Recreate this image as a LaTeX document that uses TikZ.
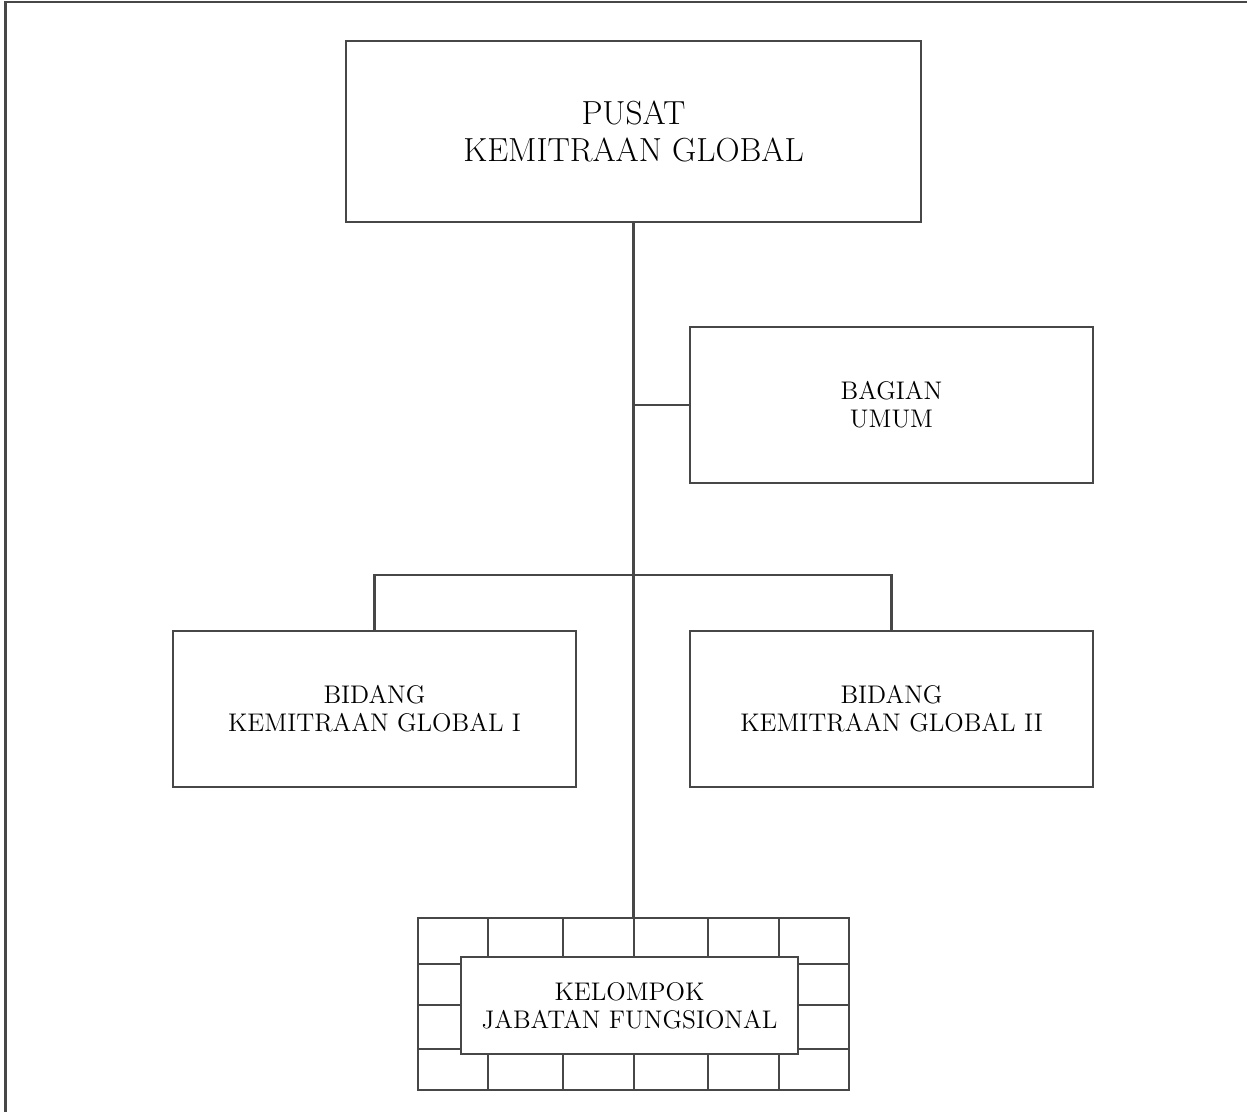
\documentclass[tikz,border=0pt]{standalone}
\usepackage{fontspec}
\tikzset{
  ln/.style={draw=black!72, line width=1.4pt},
  unit/.style={ln, fill=white, rectangle, inner sep=0pt, outer sep=0pt, align=center,
    font=\fontsize{14.5}{16}\selectfont},
  headbox/.style={unit, minimum width=11.5cm, minimum height=3.62cm,
    font=\fontsize{19}{21}\selectfont},
  subbox/.style={unit, minimum width=8.06cm, minimum height=3.12cm},
  gridbox/.style={rectangle, inner sep=0pt, outer sep=0pt, minimum width=8.62cm, minimum height=3.44cm},
  kjfbox/.style={unit, minimum width=6.74cm, minimum height=1.94cm}
}
\begin{document}
\begin{tikzpicture}[x=0.02cm, y=-0.02cm]
\useasboundingbox (0,0) rectangle (1247,1112);
% page frame (top and left edges)
\draw[ln] (1247,2) -- (5.5,2) -- (5.5,1112);

\node[headbox] (top) at (633.5,131.5) {PUSAT\\KEMITRAAN GLOBAL};
\node[subbox] (umum) at (891.5,405) {BAGIAN\\UMUM};
\node[subbox] (bid1) at (374.5,709) {BIDANG\\KEMITRAAN GLOBAL I};
\node[subbox] (bid2) at (891.5,709) {BIDANG\\KEMITRAAN GLOBAL II};
\node[gridbox] (grid) at (633.5,1004) {};

% grid of the functional group
\draw[ln] (grid.north west) rectangle (grid.south east);
\foreach \yy in {964,1005,1049} \draw[ln] (418,\yy) -- (849,\yy);
\foreach \xx in {488,563,634,708,779} \draw[ln] (\xx,918) -- (\xx,1090);
\node[kjfbox] (kjf) at (629.5,1005.5) {KELOMPOK\\JABATAN FUNGSIONAL};

% connectors
\coordinate (j1) at (633.5,405);
\coordinate (j2) at (633.5,575);
\draw[ln] (top.south) -- (grid.north);
\draw[ln] (j1) -- (umum.west);
\draw[ln] (bid1.north) |- (j2) -| (bid2.north);
\end{tikzpicture}
\end{document}
